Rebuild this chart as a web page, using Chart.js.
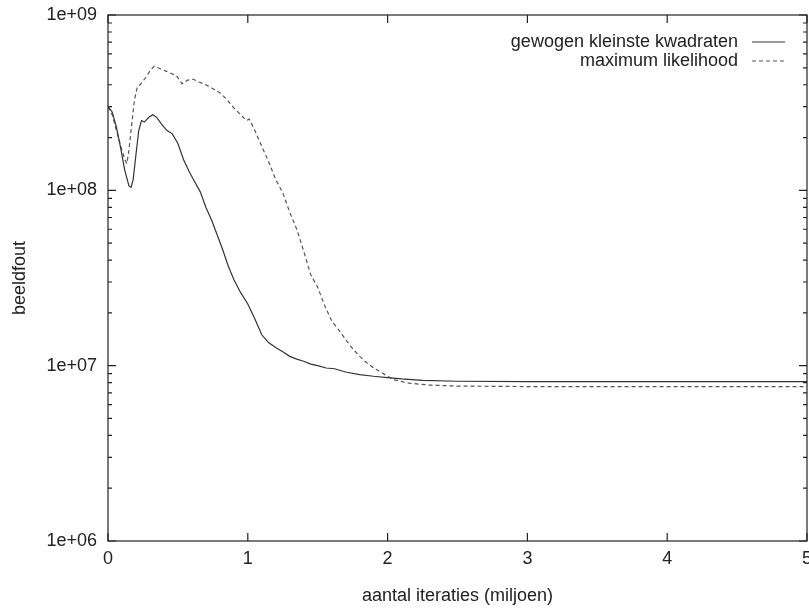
<!DOCTYPE html>
<html>
<head>
<meta charset="utf-8">
<script src="https://cdn.jsdelivr.net/npm/chart.js@4.4.0/dist/chart.umd.min.js"></script>
<style>
body { margin: 0; background: #fff; }
</style>
</head>
<body>
<canvas id="myChart" width="809" height="610"></canvas>
<script>
// labels
var labelWls = "gewogen kleinste kwadraten";
var labelMl = "maximum likelihood";
var xTitle = "aantal iteraties (miljoen)";
var yTitle = "beeldfout";

// ticks
var xTicks = [0, 1, 2, 3, 4, 5];
var yMajor = [1e6, 1e7, 1e8, 1e9];

// gewogen kleinste kwadraten (x in miljoen iteraties)
var wlsX = [0, 0.03, 0.06, 0.09, 0.12, 0.15, 0.165, 0.18, 0.20, 0.22, 0.24, 0.26, 0.29, 0.32, 0.35, 0.38,
  0.42, 0.46, 0.50, 0.54, 0.58, 0.62, 0.66, 0.70, 0.74, 0.78, 0.82, 0.86, 0.90, 0.95, 1.00, 1.05,
  1.10, 1.15, 1.20, 1.25, 1.30, 1.35, 1.40, 1.45, 1.50, 1.56, 1.62, 1.70, 1.80, 1.90, 2.00, 2.10,
  2.25, 2.5, 3.0, 3.5, 4.0, 4.5, 5.0];
var wlsY = [3.0e8, 2.8e8, 2.3e8, 1.75e8, 1.3e8, 1.06e8, 1.04e8, 1.15e8, 1.6e8, 2.2e8, 2.5e8, 2.45e8, 2.6e8, 2.7e8, 2.6e8, 2.4e8,
  2.2e8, 2.1e8, 1.85e8, 1.5e8, 1.28e8, 1.12e8, 9.8e7, 8.0e7, 6.8e7, 5.6e7, 4.6e7, 3.7e7, 3.1e7, 2.6e7, 2.25e7, 1.85e7,
  1.5e7, 1.35e7, 1.27e7, 1.2e7, 1.13e7, 1.09e7, 1.06e7, 1.02e7, 1.0e7, 9.7e6, 9.6e6, 9.2e6, 8.9e6, 8.7e6, 8.55e6, 8.4e6,
  8.25e6, 8.15e6, 8.1e6, 8.1e6, 8.1e6, 8.1e6, 8.1e6];

// maximum likelihood
var mlX = [0, 0.03, 0.06, 0.09, 0.12, 0.135, 0.15, 0.17, 0.19, 0.21, 0.23, 0.25, 0.27, 0.30, 0.33, 0.37,
  0.41, 0.45, 0.49, 0.53, 0.57, 0.61, 0.65, 0.70, 0.75, 0.80, 0.85, 0.90, 0.95, 0.99, 1.01, 1.05,
  1.10, 1.15, 1.20, 1.25, 1.30, 1.35, 1.40, 1.45, 1.50, 1.55, 1.60, 1.65, 1.70, 1.75, 1.80, 1.85,
  1.90, 1.95, 2.00, 2.05, 2.15, 2.3, 2.5, 3.0, 4.0, 5.0];
var mlY = [3.0e8, 2.7e8, 2.2e8, 1.8e8, 1.5e8, 1.42e8, 1.7e8, 2.4e8, 3.3e8, 3.9e8, 4.0e8, 4.2e8, 4.4e8, 4.8e8, 5.1e8, 4.95e8,
  4.8e8, 4.65e8, 4.5e8, 4.05e8, 4.25e8, 4.3e8, 4.15e8, 4.0e8, 3.8e8, 3.6e8, 3.3e8, 2.95e8, 2.7e8, 2.5e8, 2.55e8, 2.2e8,
  1.78e8, 1.45e8, 1.15e8, 9.7e7, 7.5e7, 6.0e7, 4.5e7, 3.3e7, 2.8e7, 2.2e7, 1.8e7, 1.6e7, 1.41e7, 1.25e7, 1.13e7, 1.04e7,
  9.7e6, 9.2e6, 8.7e6, 8.3e6, 7.95e6, 7.75e6, 7.65e6, 7.6e6, 7.6e6, 7.6e6];

function punten(xs, ys) {
  var out = [];
  for (var i = 0; i < xs.length; i++) {
    out.push({ x: xs[i], y: ys[i] });
  }
  return out;
}

function isMajor(v) {
  var l = Math.log10(v);
  return Math.abs(l - Math.round(l)) < 1e-9;
}

function expLabel(v) {
  var e = Math.round(Math.log10(v));
  return "1e+" + (e < 10 ? "0" + e : e);
}

// frame, inward ticks and gnuplot-style key
var kader = {
  id: "kader",
  afterDatasetsDraw: function(chart) {
    var ctx = chart.ctx;
    var a = chart.chartArea;
    var xs = chart.scales.x;
    var ys = chart.scales.y;
    ctx.save();
    ctx.strokeStyle = "#222";
    ctx.lineWidth = 1.2;
    ctx.setLineDash([]);
    ctx.strokeRect(a.left, a.top, a.right - a.left, a.bottom - a.top);
    ctx.beginPath();
    xs.ticks.forEach(function(t) {
      var px = xs.getPixelForValue(t.value);
      ctx.moveTo(px, a.bottom);
      ctx.lineTo(px, a.bottom - 8);
      ctx.moveTo(px, a.top);
      ctx.lineTo(px, a.top + 8);
    });
    ys.ticks.forEach(function(t) {
      var py = ys.getPixelForValue(t.value);
      var len = isMajor(t.value) ? 8 : 4;
      ctx.moveTo(a.left, py);
      ctx.lineTo(a.left + len, py);
      ctx.moveTo(a.right, py);
      ctx.lineTo(a.right - len, py);
    });
    ctx.stroke();

    // key
    ctx.font = "18px 'Liberation Sans', Arial, sans-serif";
    ctx.fillStyle = "#222";
    ctx.textAlign = "right";
    ctx.textBaseline = "middle";
    chart.data.datasets.forEach(function(ds, i) {
      var y = a.top + 27 + i * 19;
      ctx.fillText(ds.label, a.right - 69, y);
      ctx.strokeStyle = ds.borderColor;
      ctx.lineWidth = ds.borderWidth;
      ctx.setLineDash(ds.borderDash || []);
      ctx.beginPath();
      ctx.moveTo(a.right - 55, y);
      ctx.lineTo(a.right - 22, y);
      ctx.stroke();
    });
    ctx.restore();
  }
};

function init() {
  Chart.defaults.font.family = "'Liberation Sans', Arial, sans-serif";
  Chart.defaults.font.size = 18;
  Chart.defaults.color = "#222";

  var ctx = document.getElementById("myChart");
  var chart = new Chart(ctx, {
    type: "line",
    data: {
      datasets: [{
        label: labelWls,
        data: punten(wlsX, wlsY),
        borderColor: "#333",
        borderWidth: 1.2,
        pointRadius: 0,
        tension: 0,
        fill: false
      }, {
        label: labelMl,
        data: punten(mlX, mlY),
        borderColor: "#555",
        borderWidth: 1.2,
        borderDash: [4, 3],
        pointRadius: 0,
        tension: 0,
        fill: false
      }]
    },
    options: {
      responsive: false,
      animation: false,
      devicePixelRatio: 1,
      layout: { padding: { top: 15, right: 2, left: 0, bottom: 0 } },
      plugins: {
        legend: { display: false },
        tooltip: { enabled: false }
      },
      scales: {
        x: {
          type: "linear",
          min: xTicks[0],
          max: xTicks[xTicks.length - 1],
          grid: { display: false, drawTicks: false },
          border: { display: false },
          ticks: { padding: 7, maxRotation: 0 },
          afterBuildTicks: function(s) {
            s.ticks = xTicks.map(function(v) { return { value: v }; });
          },
          afterFit: function(s) {
            s.height = 69;
            s.paddingLeft = 0;
            s.paddingRight = 0;
          },
          title: { display: true, text: xTitle, padding: { top: 0, bottom: 3 } }
        },
        y: {
          type: "logarithmic",
          min: yMajor[0],
          max: yMajor[yMajor.length - 1],
          grid: { display: false, drawTicks: false },
          border: { display: false },
          ticks: {
            padding: 11,
            autoSkip: false,
            callback: function(v) { return isMajor(v) ? expLabel(v) : ""; }
          },
          afterBuildTicks: function(s) {
            var t = [];
            for (var i = 0; i < yMajor.length - 1; i++) {
              for (var k = 1; k < 10; k++) t.push({ value: k * yMajor[i] });
            }
            t.push({ value: yMajor[yMajor.length - 1] });
            s.ticks = t;
          },
          afterFit: function(s) {
            s.width = 108;
            s.paddingTop = 0;
            s.paddingBottom = 0;
          },
          title: { display: true, text: yTitle, padding: { top: 9, bottom: 0 } }
        }
      }
    },
    plugins: [kader]
  });
}

init();
</script>
</body>
</html>
